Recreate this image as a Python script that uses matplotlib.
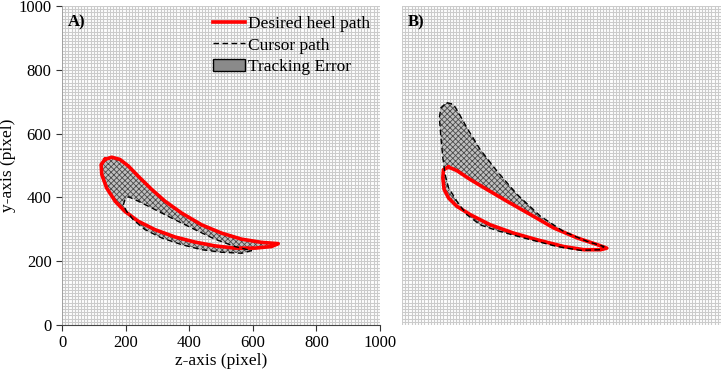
import numpy as np
import matplotlib
matplotlib.use("Agg")
import matplotlib.pyplot as plt
from matplotlib.path import Path
from matplotlib.patches import PathPatch, Patch
from matplotlib.lines import Line2D

plt.rcParams['font.family'] = ['Liberation Serif', 'DejaVu Serif']
plt.rcParams['hatch.linewidth'] = 0.6

# panel A: desired heel path (closed loop), z / y in pixels
a_des_z = [135, 156, 182, 209, 240, 282, 324, 376, 439, 502, 565, 628, 680,
           659, 607, 544, 481, 418, 355, 292, 240, 198, 167, 140, 125, 123]
a_des_y = [519, 526, 519, 498, 466, 425, 388, 351, 314, 288, 269, 259, 255,
           246, 241, 241, 248, 260, 276, 299, 325, 356, 388, 430, 472, 503]
# panel A: cursor path
a_cur_z = [198, 209, 240, 292, 355, 418, 481, 544, 596, 565, 502, 439, 376,
           313, 261, 224, 203, 193]
a_cur_y = [393, 402, 388, 362, 330, 299, 269, 246, 233, 225, 228, 236, 252,
           273, 299, 330, 356, 377]

# panel B: desired heel path
b_des_z = [146, 130, 128, 132, 146, 172, 214, 277, 350, 424, 507, 570, 623,
           642, 612, 549, 476, 403, 329, 266, 214, 172]
b_des_y = [495, 487, 461, 425, 398, 372, 346, 314, 288, 267, 246, 236, 236,
           241, 252, 273, 304, 346, 388, 425, 456, 484]
# panel B: cursor path
b_cur_z = [140, 122, 117, 122, 128, 135, 146, 172, 203, 245, 298, 381, 486,
           560, 623, 633, 581, 507, 434, 361, 298, 245, 203, 177, 161]
b_cur_y = [697, 681, 650, 587, 524, 472, 430, 388, 346, 314, 296, 273, 246,
           234, 236, 246, 262, 293, 341, 409, 482, 550, 619, 666, 692]

ticks = [0, 200, 400, 600, 800, 1000]


def closed(z, y):
    z = list(z) + [z[0]]
    y = list(y) + [y[0]]
    return np.array(z, float), np.array(y, float)


def area(z, y):
    return 0.5 * np.sum(z[:-1] * y[1:] - z[1:] * y[:-1])


def draw(ax, dz, dy, cz, cy, label):
    dz, dy = closed(dz, dy)
    cz, cy = closed(cz, cy)
    # opposite orientation so overlapping area is left empty (nonzero rule)
    if np.sign(area(dz, dy)) == np.sign(area(cz, cy)):
        cz, cy = cz[::-1], cy[::-1]
    p = Path.make_compound_path(Path(np.column_stack([dz, dy]), closed=True),
                                Path(np.column_stack([cz, cy]), closed=True))
    ax.add_patch(PathPatch(p, facecolor='#c0c0c0', edgecolor='#4a4a4a',
                           linewidth=0, hatch='xxxxxx', zorder=2))
    ax.plot(dz, dy, color='red', lw=2.6, zorder=3, solid_joinstyle='round')
    ax.plot(cz, cy, color='black', lw=1.0, ls=(0, (4, 2.5)), zorder=4)
    ax.text(0.018, 0.975, label, transform=ax.transAxes, fontsize=12,
            fontweight='bold', va='top', ha='left', zorder=5)

    ax.set_xlim(0, 1000)
    ax.set_ylim(0, 1000)
    minor = np.arange(0, 1001, 10)
    ax.set_xticks(minor, minor=True)
    ax.set_yticks(minor, minor=True)
    ax.grid(True, which='both', color='#cbcbcb', lw=0.8, zorder=0)
    ax.set_axisbelow(True)
    ax.tick_params(which='minor', length=0)


fig = plt.figure(figsize=(7.22, 3.74), dpi=100)
axA = fig.add_axes([0.0859, 0.131, 0.4404, 0.853])
axB = fig.add_axes([0.5568, 0.131, 0.4418, 0.853])

draw(axA, a_des_z, a_des_y, a_cur_z, a_cur_y, 'A)')
draw(axB, b_des_z, b_des_y, b_cur_z, b_cur_y, 'B)')

axA.set_xticks(ticks)
axA.set_yticks(ticks)
axA.tick_params(which='major', direction='out', length=4, width=0.8,
                labelsize=12, color='#333333')
axA.set_xlabel('z-axis (pixel)', fontsize=12.5, labelpad=1)
axA.set_ylabel('y-axis (pixel)', fontsize=12.5, labelpad=2)
for s in ['top', 'right']:
    axA.spines[s].set_visible(False)
axA.spines['bottom'].set_color('#444444')
axA.spines['bottom'].set_linewidth(0.8)
axA.spines['left'].set_color('#999999')
axA.spines['left'].set_linewidth(0.6)

axB.set_xticks([])
axB.set_yticks([])
axB.tick_params(which='both', length=0)
for s in axB.spines.values():
    s.set_visible(False)

handles = [Line2D([], [], color='red', lw=2.6),
           Line2D([], [], color='black', lw=1.0, ls=(0, (4, 2.5))),
           Patch(facecolor='#8a8a8a', edgecolor='black', lw=1.0)]
axA.legend(handles, ['Desired heel path', 'Cursor path', 'Tracking Error'],
           loc='upper right', frameon=False, fontsize=12.5, handlelength=1.85,
           handletextpad=0.2, labelspacing=0.33, borderaxespad=0.35,
           borderpad=0.2)

fig.savefig('out.png', dpi=100)
